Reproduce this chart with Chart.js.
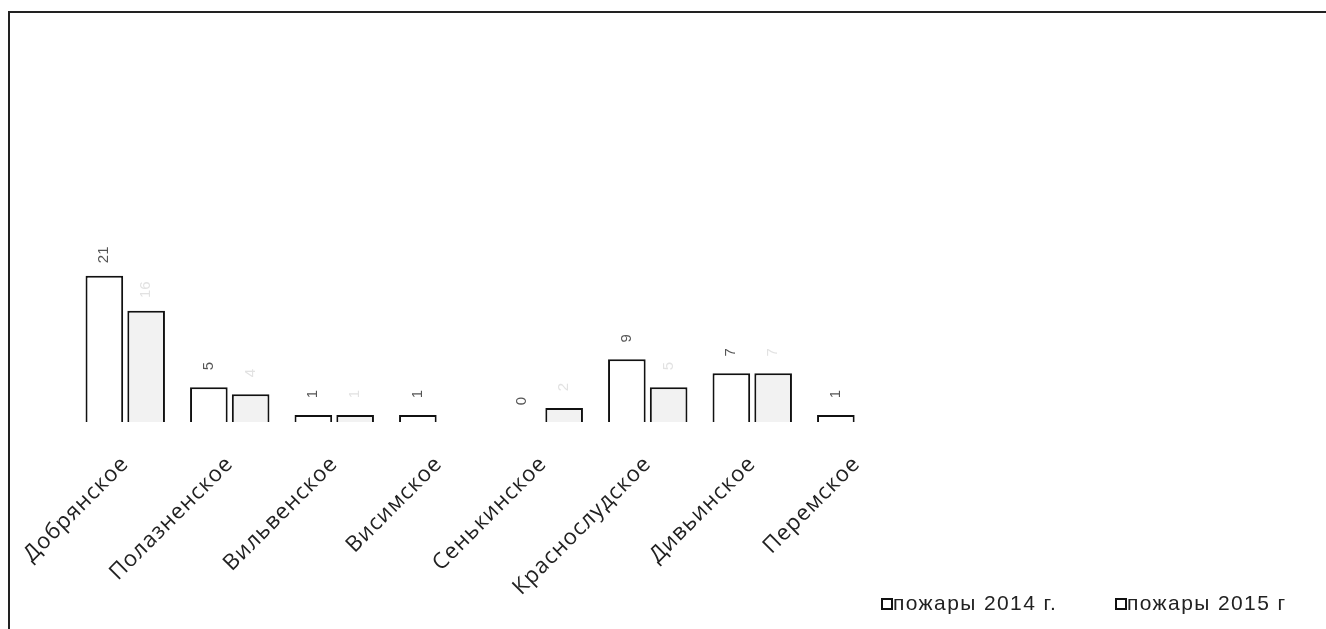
<!DOCTYPE html>
<html>
<head>
<meta charset="utf-8">
<script src="https://cdn.jsdelivr.net/npm/chart.js@4.4.1/dist/chart.umd.min.js"></script>
<style>
  body { margin: 0; background: #fff; }
  #wrap { position: relative; width: 1326px; height: 629px; overflow: hidden; }
  #frame { position: absolute; left: 8px; top: 11px; width: 1330px; height: 640px;
           border-left: 2px solid #222; border-top: 2px solid #222; }
  canvas { position: absolute; left: 0; top: 0; }
</style>
</head>
<body>
<div id="wrap">
  <div id="frame"></div>
  <canvas id="fireChart" width="1326" height="629"></canvas>
</div>
<script>
const settlements = ['Добрянское', 'Полазненское', 'Вильвенское', 'Висимское',
                     'Сенькинское', 'Краснослудское', 'Дивьинское', 'Перемское'];
const fires2014 = [21, 5, 1, 1, 0, 9, 7, 1];
const fires2015 = [16, 4, 1, null, 2, 5, 7, null];
const seriesNames = ['пожары 2014 г.', 'пожары 2015 г'];

// the scanned labels are set wide, spread the letters a little
const wideText = {
    id: 'wideText',
    beforeUpdate(chart) { chart.ctx.letterSpacing = '1px'; },
    beforeLayout(chart) { chart.ctx.letterSpacing = '1px'; },
    beforeDraw(chart) { chart.ctx.letterSpacing = '1px'; }
};

// value labels above bars, turned on their side
const barLabels = {
    id: 'barLabels',
    afterDatasetsDraw(chart) {
        const ctx = chart.ctx;
        const colors = ['#555', '#e2e2e2'];
        chart.data.datasets.forEach((ds, i) => {
            const meta = chart.getDatasetMeta(i);
            meta.data.forEach((bar, j) => {
                const v = ds.data[j];
                if (v === null || v === undefined) return;
                ctx.save();
                ctx.letterSpacing = '0px';
                ctx.translate(bar.x, bar.y - 21);
                ctx.rotate(-Math.PI / 2);
                ctx.font = '15px "Liberation Sans", Arial, sans-serif';
                ctx.fillStyle = colors[i];
                ctx.textAlign = 'center';
                ctx.textBaseline = 'middle';
                ctx.fillText(String(v), 0, 0);
                ctx.restore();
            });
        });
    }
};

// legend in the bottom right corner, like the scan
const cornerLegend = {
    id: 'cornerLegend',
    afterDraw(chart) {
        const ctx = chart.ctx;
        const spots = [882, 1116];
        ctx.save();
        ctx.letterSpacing = '1.4px';
        ctx.font = '21px "Liberation Sans", Arial, sans-serif';
        ctx.textBaseline = 'alphabetic';
        chart.data.datasets.forEach((ds, i) => {
            const x = spots[i];
            ctx.fillStyle = '#fff';
            ctx.fillRect(x, 599, 10, 10);
            ctx.strokeStyle = '#111';
            ctx.lineWidth = 2;
            ctx.strokeRect(x, 599, 10, 10);
            ctx.fillStyle = '#222';
            ctx.fillText(ds.label, x + 11, 610);
        });
        ctx.restore();
    }
};

const ctx = document.getElementById('fireChart').getContext('2d');
const fireChart = new Chart(ctx, {
    type: 'bar',
    data: {
        labels: settlements,
        datasets: [{
            label: seriesNames[0],
            data: fires2014,
            backgroundColor: '#ffffff',
            borderColor: '#111',
            borderWidth: 2
        }, {
            label: seriesNames[1],
            data: fires2015,
            backgroundColor: '#f2f2f2',
            borderColor: '#111',
            borderWidth: 2
        }]
    },
    options: {
        responsive: false,
        animation: false,
        layout: { padding: { left: 73, top: 74, right: 0, bottom: 0 } },
        plugins: {
            tooltip: { enabled: false },
            legend: { display: false }
        },
        scales: {
            x: {
                grid: { display: false },
                border: { display: false },
                categoryPercentage: 0.73,
                barPercentage: 1.0,
                ticks: {
                    color: '#222',
                    minRotation: 45,
                    maxRotation: 45,
                    padding: 21,
                    font: { family: '"Open Sans", sans-serif', size: 22 }
                },
                afterFit(scale) { scale.height = 207; }
            },
            y: {
                position: 'right',
                min: 0,
                max: 50,
                grid: { display: false },
                border: { display: false },
                ticks: { display: false },
                afterFit(scale) { scale.width = 417; }
            }
        }
    },
    plugins: [wideText, barLabels, cornerLegend]
});
</script>
</body>
</html>
